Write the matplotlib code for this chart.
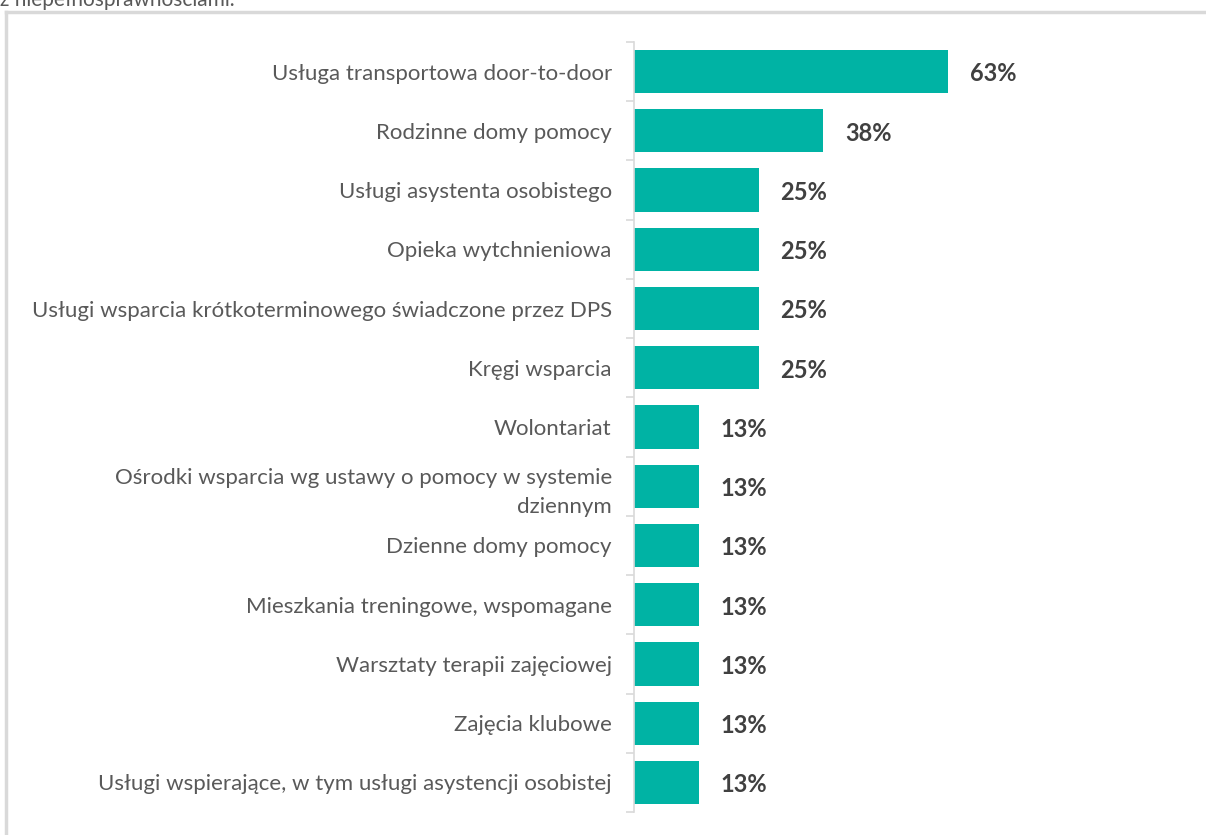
import numpy as np
import matplotlib
matplotlib.use("Agg")
import matplotlib.pyplot as plt
from matplotlib.lines import Line2D

# =========================
# DATA
# =========================
categories = [
    "Usługa transportowa door-to-door",
    "Rodzinne domy pomocy",
    "Usługi asystenta osobistego",
    "Opieka wytchnieniowa",
    "Usługi wsparcia krótkoterminowego świadczone przez DPS",
    "Kręgi wsparcia",
    "Wolontariat",
    "Ośrodki wsparcia wg ustawy o pomocy w systemie\ndziennym",
    "Dzienne domy pomocy",
    "Mieszkania treningowe, wspomagane",
    "Warsztaty terapii zajęciowej",
    "Zajęcia klubowe",
    "Usługi wspierające, w tym usługi asystencji osobistej",
]
values = [63, 38, 25, 25, 25, 25, 13, 13, 13, 13, 13, 13, 13]
caption = "z niepełnosprawnościami."

BAR_COLOR = "#00b3a4"
LABEL_COLOR = "#595959"
VALUE_COLOR = "#404040"
FRAME_COLOR = "#d9d9d9"

plt.rcParams['font.family'] = ['Lato', 'DejaVu Sans']

fig = plt.figure(figsize=(12.06, 8.35), dpi=100)
ax = fig.add_axes([634 / 1206, 23 / 835, 498 / 1206, 770 / 835])

y = np.arange(len(categories))
ax.barh(y, values, height=0.73, color=BAR_COLOR)
ax.set_ylim(len(categories) - 0.5, -0.5)
ax.set_xlim(0, 100)

# value labels
for yi, v in zip(y, values):
    ax.text(v + 4.4, yi + 0.04, f"{v}%", va="center", ha="left",
            fontsize=17, fontweight="bold", color=VALUE_COLOR)

ax.set_yticks(y)
ax.set_yticklabels(categories, fontsize=16, color=LABEL_COLOR, linespacing=1.55)
ax.tick_params(axis="y", which="major", length=0, pad=16)
ax.set_yticks(np.arange(len(categories) + 1) - 0.5, minor=True)
ax.tick_params(axis="y", which="minor", length=6, width=1.2, color=FRAME_COLOR)
for lbl in ax.get_yticklabels():
    lbl.set_multialignment("right")

ax.set_xticks([])
for s in ["top", "right", "bottom"]:
    ax.spines[s].set_visible(False)
ax.spines["left"].set_color(FRAME_COLOR)
ax.spines["left"].set_linewidth(1.2)

# outer frame (partially visible)
fig.add_artist(Line2D([6 / 1206, 1], [823 / 835, 823 / 835], color=FRAME_COLOR,
                      lw=2.5, transform=fig.transFigure))
fig.add_artist(Line2D([6 / 1206, 6 / 1206], [0, 823 / 835], color=FRAME_COLOR,
                      lw=2.5, transform=fig.transFigure))

fig.text(0.0, 829 / 835, caption, ha="left", va="baseline", fontsize=15,
         color=LABEL_COLOR)

fig.savefig("out.png", dpi=100)
